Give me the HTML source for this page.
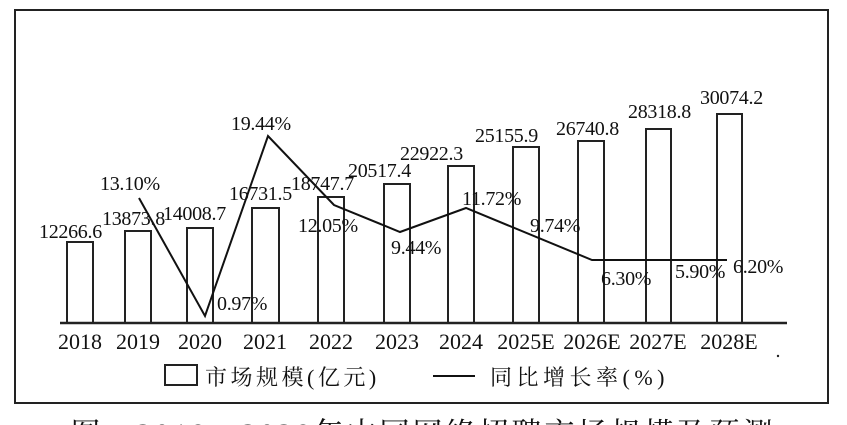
<!DOCTYPE html>
<html><head><meta charset="utf-8"><style>
html,body{margin:0;padding:0;background:#fff;}
svg{display:block;}
text{font-family:"Liberation Serif","Noto Serif CJK SC",serif;fill:#111;}
</style></head><body>
<svg width="847" height="425" viewBox="0 0 847 425" xmlns="http://www.w3.org/2000/svg">
<rect x="15" y="10" width="813" height="393" fill="none" stroke="#222" stroke-width="2"/>
<g fill="none" stroke="#222" stroke-width="2">
<rect x="67" y="242" width="26" height="81"/>
<rect x="125" y="231" width="26" height="92"/>
<rect x="187" y="228" width="26" height="95"/>
<rect x="252" y="208" width="27" height="115"/>
<rect x="318" y="197" width="26" height="126"/>
<rect x="384" y="184" width="26" height="139"/>
<rect x="448" y="166" width="26" height="157"/>
<rect x="513" y="147" width="26" height="176"/>
<rect x="578" y="141" width="26" height="182"/>
<rect x="646" y="129" width="25" height="194"/>
<rect x="717" y="114" width="25" height="209"/>
</g>
<line x1="60" y1="323" x2="787" y2="323" stroke="#222" stroke-width="2.5"/>
<polyline points="139,198 205,316 268,136 334,205 400,232 466,208 592,260 727,260" fill="none" stroke="#111" stroke-width="2"/>
<g font-size="20" letter-spacing="-0.3">
<text x="39" y="238">12266.6</text>
<text x="102" y="225">13873.8</text>
<text x="163" y="220">14008.7</text>
<text x="229" y="200">16731.5</text>
<text x="291" y="190">18747.7</text>
<text x="348" y="177">20517.4</text>
<text x="400" y="160">22922.3</text>
<text x="475" y="142">25155.9</text>
<text x="556" y="135">26740.8</text>
<text x="628" y="118">28318.8</text>
<text x="700" y="104">30074.2</text>
<text x="100" y="190">13.10%</text>
<text x="231" y="130">19.44%</text>
<text x="217" y="310">0.97%</text>
<text x="298" y="232">12.05%</text>
<text x="391" y="254">9.44%</text>
<text x="462" y="205">11.72%</text>
<text x="530" y="232">9.74%</text>
<text x="601" y="285">6.30%</text>
<text x="675" y="278">5.90%</text>
<text x="733" y="273">6.20%</text>
</g>
<g font-size="22" text-anchor="middle">
<text x="80" y="349">2018</text>
<text x="138" y="349">2019</text>
<text x="200" y="349">2020</text>
<text x="265" y="349">2021</text>
<text x="331" y="349">2022</text>
<text x="397" y="349">2023</text>
<text x="461" y="349">2024</text>
<text x="526" y="349">2025E</text>
<text x="592" y="349">2026E</text>
<text x="658" y="349">2027E</text>
<text x="729" y="349">2028E</text>
</g>
<circle cx="778" cy="356" r="1.2" fill="#222"/>
<rect x="165" y="365" width="32" height="20" fill="none" stroke="#222" stroke-width="2"/>
<text x="205" y="385" font-size="22" letter-spacing="3.5">市场规模(亿元)</text>
<line x1="433" y1="376" x2="475" y2="376" stroke="#111" stroke-width="2"/>
<text x="490" y="385" font-size="22" letter-spacing="4.5">同比增长率(%)</text>
<text x="423" y="444" font-size="30" text-anchor="middle" letter-spacing="3">图　2018—2028年中国网络招聘市场规模及预测</text>
</svg>
</body></html>
